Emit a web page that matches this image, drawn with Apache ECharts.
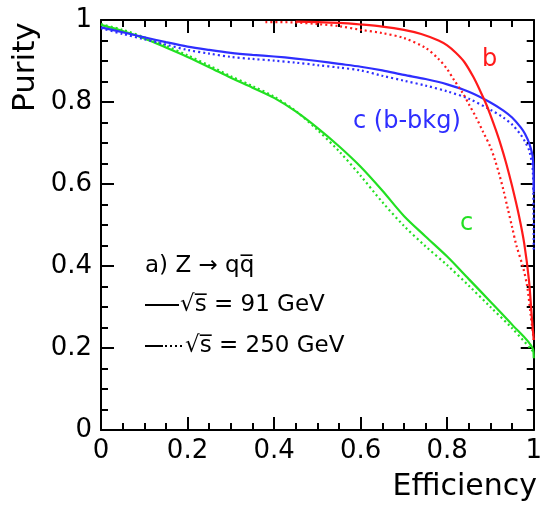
<!DOCTYPE html>
<html>
<head>
<meta charset="utf-8">
<script src="https://cdn.jsdelivr.net/npm/echarts@6/dist/echarts.min.js"></script>
<style>
  html, body { margin: 0; padding: 0; background: #fff; }
  #chart { width: 545px; height: 508px; }
</style>
</head>
<body>
<div id="chart"></div>
<script>
// Purity vs. efficiency for flavour tagging in Z -> q qbar events

// b-tag, sqrt(s) = 91 GeV
const bEff91 = [0.45, 0.5, 0.55, 0.6, 0.65, 0.7, 0.74, 0.78, 0.8, 0.82, 0.84, 0.86, 0.875, 0.89, 0.9, 0.913, 0.924, 0.936, 0.95, 0.966, 0.978, 0.989, 0.996, 1.0];
const bPur91 = [0.996, 0.995, 0.993, 0.989, 0.984, 0.976, 0.966, 0.95, 0.938, 0.92, 0.897, 0.862, 0.83, 0.795, 0.768, 0.73, 0.695, 0.652, 0.595, 0.522, 0.455, 0.365, 0.27, 0.22];
// b-tag, sqrt(s) = 250 GeV
const bEff250 = [0.38, 0.45, 0.5, 0.55, 0.6, 0.65, 0.7, 0.75, 0.78, 0.8, 0.815, 0.837, 0.851, 0.868, 0.883, 0.9, 0.91, 0.92, 0.93, 0.94, 0.95, 0.96, 0.975, 0.985, 0.993, 1.0];
const bPur250 = [0.995, 0.994, 0.99, 0.985, 0.976, 0.968, 0.956, 0.932, 0.905, 0.88, 0.855, 0.82, 0.793, 0.76, 0.727, 0.69, 0.66, 0.625, 0.585, 0.54, 0.495, 0.45, 0.398, 0.35, 0.28, 0.22];

// c-tag with b background, sqrt(s) = 91 GeV
const cbEff91 = [0.0, 0.05, 0.1, 0.15, 0.2, 0.25, 0.3, 0.35, 0.4, 0.45, 0.5, 0.55, 0.6, 0.65, 0.7, 0.75, 0.8, 0.85, 0.9, 0.93, 0.95, 0.97, 0.98, 0.99, 0.998, 1.0];
const cbPur91 = [0.982, 0.97, 0.958, 0.946, 0.935, 0.927, 0.92, 0.915, 0.911, 0.906, 0.9, 0.893, 0.886, 0.877, 0.866, 0.856, 0.843, 0.825, 0.799, 0.779, 0.762, 0.738, 0.722, 0.698, 0.663, 0.58];
// c-tag with b background, sqrt(s) = 250 GeV
const cbEff250 = [0.0, 0.05, 0.1, 0.15, 0.2, 0.25, 0.3, 0.35, 0.4, 0.45, 0.5, 0.55, 0.6, 0.65, 0.7, 0.75, 0.8, 0.85, 0.9, 0.93, 0.95, 0.97, 0.98, 0.99, 0.998, 1.0];
const cbPur250 = [0.98, 0.966, 0.953, 0.94, 0.927, 0.918, 0.91, 0.905, 0.901, 0.896, 0.89, 0.884, 0.877, 0.864, 0.852, 0.84, 0.826, 0.808, 0.781, 0.762, 0.745, 0.72, 0.703, 0.68, 0.63, 0.44];

// c-tag, sqrt(s) = 91 GeV
const cEff91 = [0.0, 0.05, 0.1, 0.15, 0.2, 0.25, 0.3, 0.35, 0.4, 0.45, 0.5, 0.55, 0.6, 0.65, 0.7, 0.75, 0.8, 0.85, 0.9, 0.95, 0.998, 1.0];
const cPur91 = [0.988, 0.973, 0.955, 0.933, 0.91, 0.885, 0.859, 0.835, 0.81, 0.777, 0.737, 0.692, 0.642, 0.584, 0.522, 0.472, 0.423, 0.368, 0.313, 0.257, 0.198, 0.175];
// c-tag, sqrt(s) = 250 GeV
const cEff250 = [0.0, 0.05, 0.1, 0.15, 0.2, 0.25, 0.3, 0.35, 0.4, 0.45, 0.5, 0.55, 0.6, 0.65, 0.7, 0.75, 0.8, 0.85, 0.9, 0.95, 1.0];
const cPur250 = [0.99, 0.976, 0.958, 0.937, 0.914, 0.889, 0.863, 0.839, 0.813, 0.778, 0.732, 0.68, 0.62, 0.556, 0.498, 0.448, 0.402, 0.352, 0.3, 0.248, 0.19];

const FAMILY = '"DejaVu Sans", "Liberation Sans", sans-serif';
const RED = '#ff1a1a';
const BLUE = '#2e2eff';
const GREEN = '#22e022';
const DOTS = [2, 3];

const zip = (xs, ys) => xs.map((x, i) => [x, ys[i]]);

function curve(name, xs, ys, color, dash) {
  return {
    name: name,
    type: 'line',
    data: zip(xs, ys),
    xAxisIndex: 0,
    yAxisIndex: 0,
    symbol: 'none',
    showSymbol: false,
    smooth: 0.3,
    clip: true,
    lineStyle: { color: color, width: 2.2, type: dash ? DOTS : 'solid' },
    silent: true
  };
}

function frameAxis(kind, pos, labels) {
  return {
    type: 'value',
    min: 0,
    max: 1,
    interval: 0.2,
    position: pos,
    axisLine: { show: true, onZero: false, lineStyle: { color: '#000', width: 2 } },
    axisTick: { show: true, inside: true, length: 13, lineStyle: { color: '#000', width: 2 } },
    minorTick: { show: true, splitNumber: 4, length: 7, lineStyle: { color: '#000', width: 2 } },
    splitLine: { show: false },
    minorSplitLine: { show: false },
    axisLabel: {
      show: labels,
      margin: kind === 'x' ? 8 : 9,
      color: '#000',
      fontFamily: FAMILY,
      fontSize: 26
    }
  };
}

const chart = echarts.init(document.getElementById('chart'), null, { renderer: 'canvas' });

chart.setOption({
  animation: false,
  backgroundColor: '#fff',
  grid: { left: 101, right: 7, top: 20, bottom: 78, containLabel: false },
  xAxis: [frameAxis('x', 'bottom', true), frameAxis('x', 'top', false)],
  yAxis: [frameAxis('y', 'left', true), frameAxis('y', 'right', false)],
  series: [
    curve('c 250', cEff250, cPur250, GREEN, true),
    curve('c 91', cEff91, cPur91, GREEN, false),
    curve('c(b-bkg) 250', cbEff250, cbPur250, BLUE, true),
    curve('c(b-bkg) 91', cbEff91, cbPur91, BLUE, false),
    curve('b 250', bEff250, bPur250, RED, true),
    curve('b 91', bEff91, bPur91, RED, false)
  ],
  graphic: [
    { type: 'text', x: 26, y: 112, rotation: Math.PI / 2,
      style: { text: 'Purity', font: '31px ' + FAMILY, fill: '#000', textAlign: 'left', textVerticalAlign: 'middle' } },
    { type: 'text', x: 537, y: 487,
      style: { text: 'Efficiency', font: '30px ' + FAMILY, fill: '#000', textAlign: 'right', textVerticalAlign: 'middle' } },

    { type: 'text', x: 482, y: 60,
      style: { text: 'b', font: '24px ' + FAMILY, fill: RED, textAlign: 'left', textVerticalAlign: 'middle' } },
    { type: 'text', x: 353, y: 122,
      style: { text: 'c (b-bkg)', font: '24px ' + FAMILY, fill: BLUE, textAlign: 'left', textVerticalAlign: 'middle' } },
    { type: 'text', x: 460, y: 224,
      style: { text: 'c', font: '24px ' + FAMILY, fill: GREEN, textAlign: 'left', textVerticalAlign: 'middle' } },

    { type: 'text', x: 145, y: 266,
      style: { text: 'a) Z \u2192 qq\u0305', font: '23px ' + FAMILY, fill: '#000', textAlign: 'left', textVerticalAlign: 'middle' } },
    { type: 'line', shape: { x1: 145, y1: 305, x2: 179, y2: 305 },
      style: { stroke: '#000', lineWidth: 2 } },
    { type: 'text', x: 180, y: 305,
      style: { text: '\u221As\u0305 = 91 GeV', font: '23px ' + FAMILY, fill: '#000', textAlign: 'left', textVerticalAlign: 'middle' } },
    { type: 'line', shape: { x1: 145, y1: 346, x2: 163, y2: 346 },
      style: { stroke: '#000', lineWidth: 2 } },
    { type: 'line', shape: { x1: 165, y1: 346, x2: 184, y2: 346 },
      style: { stroke: '#000', lineWidth: 2, lineDash: [2, 3] } },
    { type: 'text', x: 185, y: 346,
      style: { text: '\u221As\u0305 = 250 GeV', font: '23px ' + FAMILY, fill: '#000', textAlign: 'left', textVerticalAlign: 'middle' } }
  ]
});
</script>
</body>
</html>
